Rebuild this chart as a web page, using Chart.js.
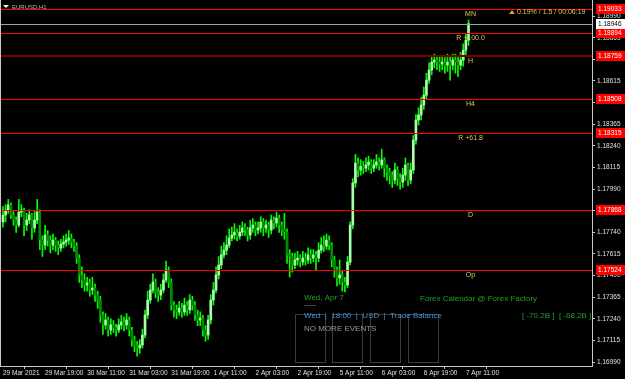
<!DOCTYPE html>
<html>
<head>
<meta charset="utf-8">
<script src="https://cdn.jsdelivr.net/npm/chart.js@4.4.1/dist/chart.umd.min.js"></script>
<style>
  html, body { margin: 0; padding: 0; background: #000; }
  #wrap { width: 625px; height: 379px; position: relative; }
</style>
</head>
<body>
<div id="wrap"><canvas id="priceChart"></canvas></div>
<script>
// EURUSD H1, one entry per bar (29 Mar 03:00 .. 7 Apr 13:00)
const opens = [
  1.17800, 1.17840, 1.17869, 1.17898, 1.17840, 1.17811, 1.17782, 1.17857, 1.17869, 1.17782,
  1.17811, 1.17840, 1.17765, 1.17811, 1.17857, 1.17695, 1.17666, 1.17724, 1.17695, 1.17666,
  1.17695, 1.17666, 1.17649, 1.17672, 1.17684, 1.17695, 1.17707, 1.17684, 1.17661, 1.17591,
  1.17493, 1.17464, 1.17435, 1.17447, 1.17406, 1.17418, 1.17377, 1.17348, 1.17262, 1.17204,
  1.17233, 1.17175, 1.17204, 1.17187, 1.17175, 1.17204, 1.17221, 1.17204, 1.17233, 1.17175,
  1.17117, 1.17088, 1.17071, 1.17088, 1.17146, 1.17262, 1.17348, 1.17406, 1.17452, 1.17395,
  1.17377, 1.17406, 1.17464, 1.17522, 1.17452, 1.17319, 1.17291, 1.17279, 1.17302, 1.17279,
  1.17319, 1.17291, 1.17348, 1.17319, 1.17262, 1.17233, 1.17244, 1.17175, 1.17146, 1.17233,
  1.17348, 1.17406, 1.17493, 1.17551, 1.17609, 1.17637, 1.17666, 1.17707, 1.17724, 1.17741,
  1.17718, 1.17741, 1.17765, 1.17753, 1.17724, 1.17765, 1.17782, 1.17753, 1.17765, 1.17799,
  1.17765, 1.17782, 1.17753, 1.17811, 1.17793, 1.17822, 1.17782, 1.17753, 1.17742, 1.17609,
  1.17600, 1.17551, 1.17580, 1.17591, 1.17568, 1.17591, 1.17580, 1.17609, 1.17591, 1.17609,
  1.17591, 1.17637, 1.17666, 1.17660, 1.17695, 1.17666, 1.17580, 1.17522, 1.17476, 1.17493,
  1.17452, 1.17435, 1.17568, 1.17782, 1.18025, 1.18140, 1.18100, 1.18120, 1.18111, 1.18129,
  1.18146, 1.18111, 1.18129, 1.18146, 1.18129, 1.18158, 1.18111, 1.18088, 1.18071, 1.18042,
  1.18100, 1.18054, 1.18030, 1.18071, 1.18129, 1.18042, 1.18100, 1.18273, 1.18389, 1.18418,
  1.18476, 1.18533, 1.18620, 1.18678, 1.18724, 1.18736, 1.18724, 1.18713, 1.18724, 1.18707,
  1.18724, 1.18707, 1.18736, 1.18724, 1.18707, 1.18736, 1.18793, 1.18851
];
const highs = [
  1.17890, 1.17900, 1.17930, 1.17910, 1.17860, 1.17830, 1.17930, 1.17900, 1.17880, 1.17850,
  1.17870, 1.17850, 1.17860, 1.17930, 1.17870, 1.17720, 1.17780, 1.17750, 1.17720, 1.17730,
  1.17710, 1.17690, 1.17700, 1.17720, 1.17730, 1.17750, 1.17730, 1.17700, 1.17680, 1.17610,
  1.17540, 1.17500, 1.17480, 1.17470, 1.17480, 1.17440, 1.17400, 1.17370, 1.17280, 1.17270,
  1.17250, 1.17240, 1.17230, 1.17210, 1.17240, 1.17260, 1.17250, 1.17270, 1.17250, 1.17190,
  1.17140, 1.17110, 1.17120, 1.17180, 1.17290, 1.17400, 1.17440, 1.17500, 1.17470, 1.17420,
  1.17440, 1.17500, 1.17574, 1.17540, 1.17470, 1.17340, 1.17320, 1.17340, 1.17330, 1.17360,
  1.17340, 1.17380, 1.17370, 1.17340, 1.17290, 1.17280, 1.17260, 1.17200, 1.17260, 1.17380,
  1.17450, 1.17540, 1.17600, 1.17660, 1.17680, 1.17720, 1.17760, 1.17770, 1.17790, 1.17760,
  1.17780, 1.17800, 1.17790, 1.17770, 1.17810, 1.17820, 1.17800, 1.17800, 1.17830, 1.17820,
  1.17810, 1.17800, 1.17840, 1.17830, 1.17857, 1.17840, 1.17800, 1.17850, 1.17760, 1.17640,
  1.17620, 1.17620, 1.17630, 1.17610, 1.17630, 1.17620, 1.17650, 1.17640, 1.17640, 1.17630,
  1.17680, 1.17710, 1.17720, 1.17730, 1.17720, 1.17680, 1.17600, 1.17540, 1.17580, 1.17520,
  1.17480, 1.17600, 1.17800, 1.18050, 1.18190, 1.18170, 1.18160, 1.18150, 1.18170, 1.18180,
  1.18160, 1.18160, 1.18190, 1.18170, 1.18220, 1.18170, 1.18130, 1.18110, 1.18090, 1.18140,
  1.18120, 1.18080, 1.18110, 1.18170, 1.18140, 1.18140, 1.18300, 1.18420, 1.18460, 1.18520,
  1.18580, 1.18660, 1.18720, 1.18760, 1.18770, 1.18760, 1.18760, 1.18760, 1.18750, 1.18770,
  1.18760, 1.18770, 1.18770, 1.18760, 1.18780, 1.18830, 1.18890, 1.18967
];
const lows = [
  1.17770, 1.17800, 1.17850, 1.17820, 1.17780, 1.17740, 1.17770, 1.17830, 1.17720, 1.17750,
  1.17790, 1.17700, 1.17740, 1.17790, 1.17640, 1.17600, 1.17640, 1.17660, 1.17620, 1.17640,
  1.17630, 1.17610, 1.17630, 1.17650, 1.17660, 1.17670, 1.17650, 1.17630, 1.17560, 1.17450,
  1.17420, 1.17400, 1.17400, 1.17370, 1.17380, 1.17340, 1.17300, 1.17220, 1.17150, 1.17180,
  1.17140, 1.17150, 1.17160, 1.17140, 1.17160, 1.17180, 1.17170, 1.17180, 1.17140, 1.17080,
  1.17050, 1.17024, 1.17040, 1.17070, 1.17130, 1.17240, 1.17330, 1.17390, 1.17360, 1.17340,
  1.17350, 1.17390, 1.17450, 1.17420, 1.17290, 1.17250, 1.17240, 1.17260, 1.17250, 1.17260,
  1.17260, 1.17270, 1.17290, 1.17230, 1.17200, 1.17200, 1.17140, 1.17110, 1.17120, 1.17210,
  1.17320, 1.17390, 1.17470, 1.17530, 1.17590, 1.17610, 1.17650, 1.17690, 1.17700, 1.17690,
  1.17700, 1.17720, 1.17720, 1.17690, 1.17700, 1.17740, 1.17720, 1.17730, 1.17740, 1.17720,
  1.17740, 1.17710, 1.17730, 1.17760, 1.17770, 1.17740, 1.17720, 1.17700, 1.17560, 1.17481,
  1.17510, 1.17530, 1.17550, 1.17540, 1.17550, 1.17550, 1.17560, 1.17560, 1.17570, 1.17520,
  1.17570, 1.17620, 1.17630, 1.17640, 1.17640, 1.17540, 1.17480, 1.17430, 1.17440, 1.17400,
  1.17395, 1.17420, 1.17550, 1.17760, 1.18000, 1.18060, 1.18070, 1.18080, 1.18090, 1.18100,
  1.18080, 1.18090, 1.18110, 1.18100, 1.18110, 1.18060, 1.18040, 1.18020, 1.18000, 1.18020,
  1.18010, 1.17990, 1.18000, 1.18040, 1.18010, 1.18020, 1.18080, 1.18250, 1.18360, 1.18390,
  1.18450, 1.18510, 1.18600, 1.18650, 1.18690, 1.18680, 1.18670, 1.18680, 1.18660, 1.18670,
  1.18620, 1.18680, 1.18660, 1.18640, 1.18680, 1.18700, 1.18760, 1.18820
];
const closes = [
  1.17840, 1.17869, 1.17898, 1.17840, 1.17811, 1.17782, 1.17857, 1.17869, 1.17782, 1.17811,
  1.17840, 1.17765, 1.17811, 1.17857, 1.17695, 1.17666, 1.17724, 1.17695, 1.17666, 1.17695,
  1.17666, 1.17649, 1.17672, 1.17684, 1.17695, 1.17707, 1.17684, 1.17661, 1.17591, 1.17493,
  1.17464, 1.17435, 1.17447, 1.17406, 1.17418, 1.17377, 1.17348, 1.17262, 1.17204, 1.17233,
  1.17175, 1.17204, 1.17187, 1.17175, 1.17204, 1.17221, 1.17204, 1.17233, 1.17175, 1.17117,
  1.17088, 1.17071, 1.17088, 1.17146, 1.17262, 1.17348, 1.17406, 1.17452, 1.17395, 1.17377,
  1.17406, 1.17464, 1.17522, 1.17452, 1.17319, 1.17291, 1.17279, 1.17302, 1.17279, 1.17319,
  1.17291, 1.17348, 1.17319, 1.17262, 1.17233, 1.17244, 1.17175, 1.17146, 1.17233, 1.17348,
  1.17406, 1.17493, 1.17551, 1.17609, 1.17637, 1.17666, 1.17707, 1.17724, 1.17741, 1.17718,
  1.17741, 1.17765, 1.17753, 1.17724, 1.17765, 1.17782, 1.17753, 1.17765, 1.17799, 1.17765,
  1.17782, 1.17753, 1.17811, 1.17793, 1.17822, 1.17782, 1.17753, 1.17742, 1.17609, 1.17600,
  1.17551, 1.17580, 1.17591, 1.17568, 1.17591, 1.17580, 1.17609, 1.17591, 1.17609, 1.17591,
  1.17637, 1.17666, 1.17660, 1.17695, 1.17666, 1.17580, 1.17522, 1.17476, 1.17493, 1.17452,
  1.17435, 1.17568, 1.17782, 1.18025, 1.18140, 1.18100, 1.18120, 1.18111, 1.18129, 1.18146,
  1.18111, 1.18129, 1.18146, 1.18129, 1.18158, 1.18111, 1.18088, 1.18071, 1.18042, 1.18100,
  1.18054, 1.18030, 1.18071, 1.18129, 1.18042, 1.18100, 1.18273, 1.18389, 1.18418, 1.18476,
  1.18533, 1.18620, 1.18678, 1.18724, 1.18736, 1.18724, 1.18713, 1.18724, 1.18707, 1.18724,
  1.18707, 1.18736, 1.18724, 1.18707, 1.18736, 1.18793, 1.18851, 1.18946
];

const timeLabels = ["29 Mar 2021", "29 Mar 19:00", "30 Mar 11:00", "31 Mar 03:00", "31 Mar 19:00",
  "1 Apr 11:00", "2 Apr 03:00", "2 Apr 19:00", "5 Apr 11:00", "6 Apr 03:00", "6 Apr 19:00", "7 Apr 11:00"];
const timeLabelBars = [0, 16, 32, 48, 64, 80, 96, 112, 128, 144, 160, 176];
const priceTicks = [1.16990, 1.17115, 1.17240, 1.17365, 1.17490, 1.17615, 1.17740, 1.17865, 1.17990,
  1.18115, 1.18240, 1.18365, 1.18490, 1.18615, 1.18740, 1.18865, 1.18990];

const levelNames = ["MN", "R +100.0", "H", "H4", "R +61.8", "D", "Op"];
const levelPrices = [1.19033, 1.18894, 1.18759, 1.18508, 1.18315, 1.17868, 1.17524];
const bidPrice = 1.18946;

const FONT = '"Liberation Sans", Arial, sans-serif';
Chart.defaults.font.family = FONT;

const mtOverlay = {
  id: "mtOverlay",
  afterDatasetsDraw(chart) {
    const { ctx, chartArea: a, scales: { x, y } } = chart;
    ctx.save();
    const w = a.right - a.left;
    // bid line
    ctx.fillStyle = "#9ea4ac";
    ctx.fillRect(a.left, Math.round(y.getPixelForValue(bidPrice)), w, 1);

    const labelX = x.getPixelForValue(closes.length - 1) + 2;
    levelPrices.forEach((p, k) => {
      const dark = levelNames[k] === "H";
      const yy = Math.round(y.getPixelForValue(p));
      ctx.fillStyle = dark ? "#7a0000" : "#ff0000";
      ctx.fillRect(a.left, dark ? yy - 1 : yy, w, dark ? 2 : 1);
      ctx.fillStyle = "#d8c860";
      ctx.font = "7px " + FONT;
      ctx.textAlign = "center";
      ctx.textBaseline = "top";
      ctx.fillText(levelNames[k], labelX, yy + 2);
    });
    ctx.restore();
  },
  afterDraw(chart) {
    const { ctx, chartArea: a, scales: { y } } = chart;
    ctx.save();
    // left frame
    ctx.fillStyle = "#c8c8c8";
    ctx.fillRect(0, 0, 1, a.bottom);

    // price boxes on the axis
    ctx.font = "6.5px " + FONT;
    ctx.textBaseline = "middle";
    ctx.textAlign = "left";
    const box = (p, bg, fg) => {
      const yy = Math.round(y.getPixelForValue(p));
      ctx.fillStyle = bg;
      ctx.fillRect(a.right + 4, yy - 5, 29, 10);
      ctx.fillStyle = fg;
      ctx.fillText(p.toFixed(5), a.right + 6, yy + 0.5);
    };
    levelPrices.forEach(p => box(p, "#ff0000", "#ffffff"));
    box(bidPrice, "#ffffff", "#000000");

    // symbol caption
    ctx.fillStyle = "#ffffff";
    ctx.beginPath(); ctx.moveTo(3, 5); ctx.lineTo(9, 5); ctx.lineTo(6, 8); ctx.closePath(); ctx.fill();
    ctx.fillStyle = "#b8b8c8";
    ctx.font = "6px " + FONT;
    ctx.fillText("EURUSD,H1", 12, 7);

    // spread / timer
    ctx.fillStyle = "#e0a030";
    ctx.beginPath(); ctx.moveTo(509, 14); ctx.lineTo(512, 10); ctx.lineTo(515, 14); ctx.closePath(); ctx.fill();
    ctx.fillStyle = "#d8c860";
    ctx.font = "7px " + FONT;
    ctx.fillText("0.19% / 1.5 / 00:06:19", 517, 12);

    // calendar panel boxes
    ctx.strokeStyle = "#3c3c3c";
    ctx.lineWidth = 1;
    [295, 332, 370, 408].forEach(bx => ctx.strokeRect(bx + 0.5, 314.5, 30, 48));

    ctx.font = "8px " + FONT;
    ctx.fillStyle = "#22a022";
    ctx.fillText("Wed, Apr 7", 304, 298);
    ctx.fillText("Forex Calendar @ Forex Factory", 420, 299);
    ctx.fillText("[ -70.2B ]  [ -68.2B ]", 522, 316);
    ctx.fillStyle = "#a0a0a0";
    ctx.font = "6px " + FONT;
    ctx.fillText("------", 304, 305);
    ctx.font = "8px " + FONT;
    ctx.fillStyle = "#4a90d0";
    ctx.fillText("Wed  |  18:00  |  USD  |  Trade Balance", 304, 316);
    ctx.fillStyle = "#9a9a9a";
    ctx.fillText("NO MORE EVENTS", 304, 329);
    ctx.restore();
  }
};

new Chart(document.getElementById("priceChart"), {
  type: "bar",
  data: {
    datasets: [
      {
        label: "body",
        data: closes.map((c, i) => ({ x: i, y: [opens[i], c] })),
        backgroundColor: (ctx) => closes[ctx.dataIndex] >= opens[ctx.dataIndex] ? "#a8ffa8" : "#008c00",
        barThickness: 2,
        grouped: false,
        order: 1,
      },
      {
        label: "wick",
        data: closes.map((c, i) => ({ x: i, y: [lows[i], highs[i]] })),
        backgroundColor: "#00ff00",
        barThickness: 1,
        grouped: false,
        order: 2,
      },
    ],
  },
  options: {
    responsive: true,
    maintainAspectRatio: false,
    animation: false,
    layout: { padding: 0 },
    plugins: {
      legend: { display: false },
      tooltip: { enabled: false },
      title: { display: false },
    },
    scales: {
      x: {
        type: "linear",
        offset: false,
        min: -1.14,
        max: 223.95,
        grid: { drawOnChartArea: false, drawTicks: true, tickLength: 3, color: "#c8c8c8" },
        border: { display: true, color: "#c8c8c8" },
        afterBuildTicks: (s) => { s.ticks = timeLabelBars.map(v => ({ value: v })); },
        afterFit: (s) => { s.height = 13; s.paddingLeft = 0; s.paddingRight = 0; },
        ticks: {
          autoSkip: false,
          maxRotation: 0,
          align: "start",
          padding: 0,
          color: "#e0e0e0",
          font: { size: 6.5 },
          callback: (v, i) => timeLabels[i],
        },
      },
      y: {
        type: "linear",
        position: "right",
        min: 1.16967,
        max: 1.19083,
        grid: { drawOnChartArea: false, drawTicks: true, tickLength: 3, color: "#c8c8c8" },
        border: { display: true, color: "#c8c8c8" },
        afterBuildTicks: (s) => { s.ticks = priceTicks.map(v => ({ value: v })); },
        afterFit: (s) => { s.width = 33; s.paddingTop = 0; s.paddingBottom = 0; },
        ticks: {
          autoSkip: false,
          padding: 2,
          color: "#e0e0e0",
          font: { size: 6.5 },
          callback: (v) => v.toFixed(5),
        },
      },
    },
  },
  plugins: [mtOverlay],
});
</script>
</body>
</html>
